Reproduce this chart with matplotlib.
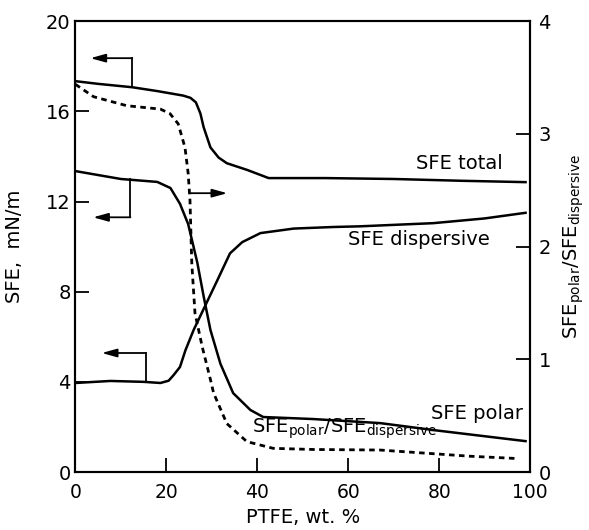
import matplotlib
matplotlib.use('Agg')
from matplotlib import pyplot as plt

plt.rcParams['font.family'] = ['DejaVu Sans']
plt.rcParams['mathtext.default'] = 'regular'

# PTFE content, wt.%  and surface free energy, mN/m
x_total = [0, 5, 12.5, 18, 23.7, 25.3, 26.5, 27.5, 28.2, 29.7, 31.5, 33.3, 37.8, 42.5, 55, 70, 85, 99]
sfe_total = [17.34, 17.22, 17.07, 16.9, 16.7, 16.6, 16.4, 15.9, 15.3, 14.4, 13.95, 13.7, 13.4, 13.04, 13.04, 13.0, 12.92, 12.86]

x_disp = [0, 7.7, 15, 18.7, 20.5, 21.6, 23, 24.2, 26, 28.6, 31.2, 34, 36.7, 40.7, 48, 56.7, 62.6, 78.7, 90, 99]
sfe_disp = [3.95, 4.04, 4.0, 3.95, 4.05, 4.3, 4.66, 5.4, 6.3, 7.4, 8.5, 9.7, 10.2, 10.6, 10.8, 10.87, 10.9, 11.04, 11.25, 11.5]

x_polar = [0, 10, 18, 20.9, 23, 24.8, 26.8, 28.2, 29.7, 31.9, 34.7, 38.5, 41.3, 52.3, 67, 80, 99]
sfe_polar = [13.35, 13.0, 12.87, 12.6, 11.9, 11.0, 9.3, 7.8, 6.3, 4.8, 3.5, 2.75, 2.44, 2.35, 2.17, 1.83, 1.37]

x_ratio = [0, 4, 11.3, 18.7, 20.8, 22.6, 24.1, 24.8, 25.2, 25.6, 26.3, 27.9, 29.7, 30.4, 33.3,
           37.7, 43.5, 52.3, 67, 86.8, 97]
ratio = [3.44, 3.33, 3.25, 3.22, 3.18, 3.09, 2.88, 2.65, 2.41, 1.85, 1.41, 1.11, 0.82, 0.70, 0.43,
         0.27, 0.21, 0.20, 0.195, 0.14, 0.12]

fs = 14
lw = 1.8

fig = plt.figure(figsize=(5.89, 5.30), dpi=100)
ax = fig.add_axes([0.128, 0.1094, 0.772, 0.8506])
ax2 = ax.twinx()

ax.plot(x_total, sfe_total, color='black', lw=lw)
ax.plot(x_disp, sfe_disp, color='black', lw=lw)
ax.plot(x_polar, sfe_polar, color='black', lw=lw)
ax2.plot(x_ratio, ratio, color='black', lw=lw + 0.2, ls=(0, (2.0, 1.6)))

ax.set_xlim(0, 100)
ax.set_ylim(0, 20)
ax2.set_ylim(0, 4)
ax.set_xticks([0, 20, 40, 60, 80, 100])
ax.set_yticks([0, 4, 8, 12, 16, 20])
ax2.set_yticks([0, 1, 2, 3, 4])

for a in (ax, ax2):
    for s in a.spines.values():
        s.set_linewidth(1.5)
ax.tick_params(direction='in', length=10, width=1.3, labelsize=fs, top=False)
ax.tick_params(axis='x', pad=8, labelsize=13.5)
ax2.tick_params(direction='in', length=10, width=1.3, labelsize=fs, pad=6)

ax.set_xlabel('PTFE, wt. %', fontsize=fs, labelpad=4)
ax.set_ylabel('SFE,  mN/m', fontsize=fs, labelpad=16)
ax2.set_ylabel('SFE$_{polar}$/SFE$_{dispersive}$', fontsize=fs, labelpad=8)

# curve labels
ax.text(94, 13.7, 'SFE total', fontsize=fs, ha='right', va='center')
ax.text(91.2, 10.3, 'SFE dispersive', fontsize=fs, ha='right', va='center')
ax.text(98.5, 2.6, 'SFE polar', fontsize=fs, ha='right', va='center')
ax.text(38.9, 1.9, 'SFE$_{polar}$/SFE$_{dispersive}$', fontsize=fs, ha='left', va='center')

# axis indicator arrows
arrow = dict(arrowstyle='-|>,head_length=0.9,head_width=0.25', color='black', lw=1.3,
             shrinkA=0, shrinkB=0)
ax.plot([12.5, 12.5], [17.07, 18.36], color='black', lw=1.3)
ax.annotate('', xy=(3.3, 18.36), xytext=(12.5, 18.36), arrowprops=arrow)
ax.plot([12.1, 12.1], [13.0, 11.3], color='black', lw=1.3)
ax.annotate('', xy=(3.9, 11.3), xytext=(12.1, 11.3), arrowprops=arrow)
ax.plot([15.5, 15.5], [4.0, 5.28], color='black', lw=1.3)
ax.annotate('', xy=(5.8, 5.28), xytext=(15.5, 5.28), arrowprops=arrow)
ax.annotate('', xy=(33.4, 12.37), xytext=(25.2, 12.37), arrowprops=arrow)

fig.savefig('out.png', dpi=100)
